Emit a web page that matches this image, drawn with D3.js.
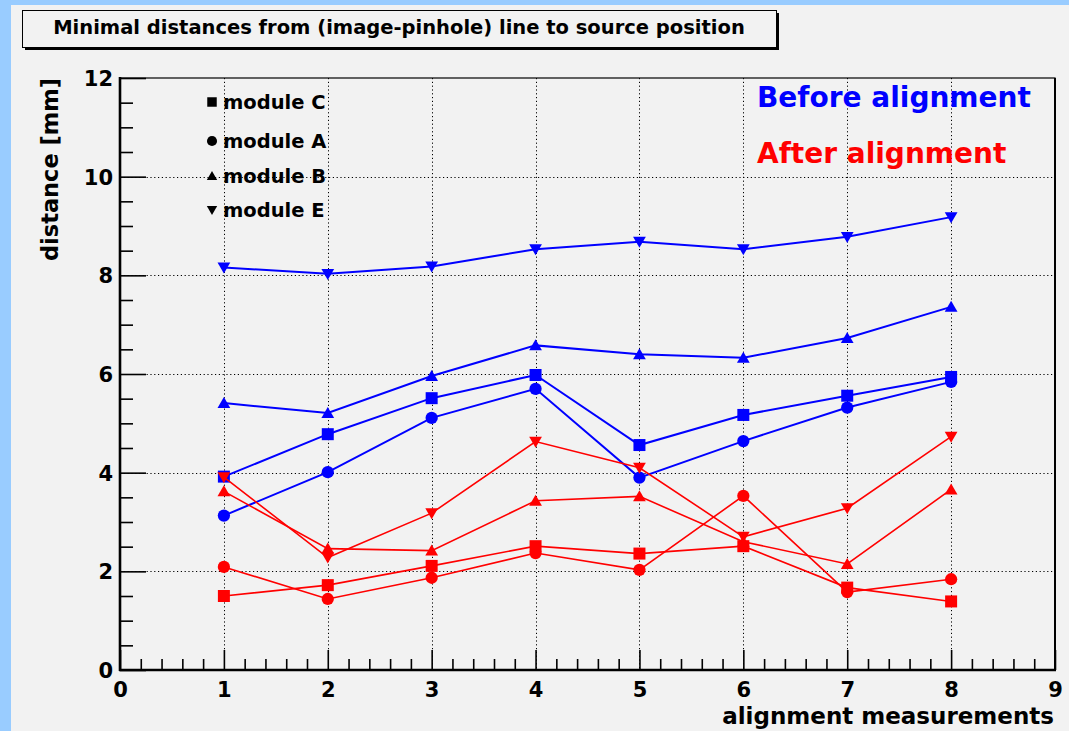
<!DOCTYPE html>
<html>
<head>
<meta charset="utf-8">
<script src="https://cdn.jsdelivr.net/npm/d3@7"></script>
<style>
  body { margin: 0; background: #f2f2f2; }
  svg { display: block; }
  text { font-family: "DejaVu Sans", "Liberation Sans", sans-serif; font-weight: bold; }
</style>
</head>
<body>
<svg id="chart" width="1069" height="731"></svg>
<script>
// Alignment measurement index (x) and per-module minimal distances in mm (y)
const measurements = [1, 2, 3, 4, 5, 6, 7, 8];

const moduleNames = ["module C", "module A", "module B", "module E"];

// Before alignment
const beforeC = [3.92, 4.78, 5.51, 5.98, 4.56, 5.17, 5.56, 5.94];
const beforeA = [3.13, 4.01, 5.11, 5.70, 3.90, 4.64, 5.32, 5.84];
const beforeB = [5.41, 5.21, 5.96, 6.58, 6.40, 6.33, 6.73, 7.36];
const beforeE = [8.16, 8.03, 8.18, 8.53, 8.68, 8.53, 8.78, 9.18];

// After alignment
const afterC = [1.50, 1.72, 2.11, 2.51, 2.36, 2.51, 1.67, 1.39];
const afterA = [2.09, 1.44, 1.87, 2.37, 2.03, 3.53, 1.58, 1.84];
const afterB = [3.62, 2.46, 2.42, 3.43, 3.52, 2.60, 2.15, 3.66];
const afterE = [3.91, 2.28, 3.18, 4.63, 4.10, 2.70, 3.28, 4.73];

const xTickValues = [0, 1, 2, 3, 4, 5, 6, 7, 8, 9];
const yTickValues = [0, 2, 4, 6, 8, 10, 12];

const titleText = "Minimal distances from (image-pinhole) line to source position";
const xTitle = "alignment measurements";
const yTitle = "distance [mm]";
const beforeLabel = "Before alignment";
const afterLabel = "After alignment";

// ---------------------------------------------------------------------------
const W = 1069, H = 731;
const plot = { left: 120, right: 1055, top: 78, bottom: 670 };
const BLUE = "#0000ff", RED = "#ff0000";

const svg = d3.select("#chart");

// page background with the blue border strips
svg.append("rect").attr("width", W).attr("height", H).attr("fill", "#99ccff");
svg.append("rect").attr("x", 11).attr("y", 5).attr("width", W - 11).attr("height", H - 5).attr("fill", "#f2f2f2");

const x = d3.scaleLinear().domain([0, 9]).range([plot.left, plot.right]);
const y = d3.scaleLinear().domain([0, 12]).range([plot.bottom, plot.top]);

// marker shapes
const triUp = {
  draw(ctx, size) {
    const h = Math.sqrt(size);
    ctx.moveTo(0, -h * 0.55);
    ctx.lineTo(h * 0.58, h * 0.45);
    ctx.lineTo(-h * 0.58, h * 0.45);
    ctx.closePath();
  }
};
const triDown = {
  draw(ctx, size) {
    const h = Math.sqrt(size);
    ctx.moveTo(0, h * 0.55);
    ctx.lineTo(h * 0.58, -h * 0.45);
    ctx.lineTo(-h * 0.58, -h * 0.45);
    ctx.closePath();
  }
};
const shapes = [d3.symbolSquare, d3.symbolCircle, triUp, triDown];
const shapeSize = [144, 118, 121, 121];
const legendSize = [90, 80, 80, 80];

// grid
const grid = svg.append("g").attr("stroke", "#000").attr("stroke-width", 1)
  .attr("stroke-dasharray", "1.2,2.6");
grid.selectAll("line.gx").data(xTickValues.filter(d => d > 0 && d < 9)).join("line")
  .attr("x1", d => Math.round(x(d)) + 0.5).attr("x2", d => Math.round(x(d)) + 0.5)
  .attr("y1", plot.top).attr("y2", plot.bottom);
grid.selectAll("line.gy").data(yTickValues.filter(d => d > 0 && d < 12)).join("line")
  .attr("y1", d => Math.round(y(d)) + 0.5).attr("y2", d => Math.round(y(d)) + 0.5)
  .attr("x1", plot.left).attr("x2", plot.right);

// frame
svg.append("rect")
  .attr("x", plot.left).attr("y", plot.top)
  .attr("width", plot.right - plot.left).attr("height", plot.bottom - plot.top)
  .attr("fill", "none").attr("stroke", "#000").attr("stroke-width", 1.2);
svg.append("line").attr("x1", plot.right).attr("x2", plot.right)
  .attr("y1", plot.top).attr("y2", plot.bottom).attr("stroke", "#000").attr("stroke-width", 2);

// axes
const xMajor = d3.axisBottom(x).tickValues(xTickValues).tickSize(-20).tickPadding(8)
  .tickFormat(d3.format("d"));
const xMinor = d3.axisBottom(x).tickValues(d3.range(0, 45).map(i => i / 5).filter(v => Math.abs(v - Math.round(v)) > 1e-6))
  .tickSize(-11).tickFormat("");
const yMajor = d3.axisLeft(y).tickValues(yTickValues).tickSize(-26).tickPadding(8)
  .tickFormat(d3.format("d"));
const yMinor = d3.axisLeft(y).tickValues(d3.range(0, 25).map(i => i / 2).filter(v => v % 2 !== 0))
  .tickSize(-13).tickFormat("");

function styleAxis(g) {
  g.select(".domain").remove();
  g.selectAll(".tick line").attr("stroke", "#000").attr("stroke-width", 1.6);
  g.selectAll("text").attr("fill", "#000").attr("font-size", 21)
    .attr("font-family", "\"DejaVu Sans\", sans-serif").attr("font-weight", "bold");
}
svg.append("g").attr("transform", `translate(0,${plot.bottom})`).call(xMinor).call(styleAxis);
svg.append("g").attr("transform", `translate(0,${plot.bottom})`).call(xMajor).call(styleAxis)
  .selectAll("text").attr("dy", null).attr("y", 27);
svg.append("g").attr("transform", `translate(${plot.left},0)`).call(yMinor).call(styleAxis);
svg.append("g").attr("transform", `translate(${plot.left},0)`).call(yMajor).call(styleAxis)
  .selectAll("text").attr("x", -7).attr("dy", "0.36em");

// thick axis lines
svg.append("line").attr("x1", plot.left - 1).attr("x2", plot.right + 1)
  .attr("y1", plot.bottom).attr("y2", plot.bottom).attr("stroke", "#000").attr("stroke-width", 2.6);
svg.append("line").attr("x1", plot.left).attr("x2", plot.left)
  .attr("y1", plot.top - 1).attr("y2", plot.bottom + 1).attr("stroke", "#000").attr("stroke-width", 2.6);

// series
const series = [
  { vals: beforeC, color: BLUE, shape: 0, w: 2 },
  { vals: beforeA, color: BLUE, shape: 1, w: 2 },
  { vals: beforeB, color: BLUE, shape: 2, w: 2 },
  { vals: beforeE, color: BLUE, shape: 3, w: 2 },
  { vals: afterC, color: RED, shape: 0, w: 1.6 },
  { vals: afterA, color: RED, shape: 1, w: 1.6 },
  { vals: afterB, color: RED, shape: 2, w: 1.6 },
  { vals: afterE, color: RED, shape: 3, w: 1.6 }
];

const line = d3.line().x(d => x(d[0])).y(d => y(d[1]));

series.forEach(s => {
  const pts = measurements.map((m, i) => [m, s.vals[i]]);
  const g = svg.append("g");
  g.append("path").attr("d", line(pts)).attr("fill", "none")
    .attr("stroke", s.color).attr("stroke-width", s.w);
  g.selectAll("path.m").data(pts).join("path")
    .attr("transform", d => `translate(${x(d[0])},${y(d[1])})`)
    .attr("d", d3.symbol().type(shapes[s.shape]).size(shapeSize[s.shape]))
    .attr("fill", s.color);
});

// legend
const legend = svg.append("g");
const legendY = [102, 141, 176, 210];
moduleNames.forEach((name, i) => {
  legend.append("path")
    .attr("transform", `translate(212,${legendY[i]})`)
    .attr("d", d3.symbol().type(shapes[i]).size(legendSize[i]))
    .attr("fill", "#000");
  legend.append("text").attr("x", 223).attr("y", legendY[i]).attr("dy", "0.36em")
    .attr("font-size", 19.5).attr("fill", "#000").text(name);
});

svg.append("text").attr("x", 757).attr("y", 107).attr("font-size", 28)
  .attr("fill", BLUE).text(beforeLabel);
svg.append("text").attr("x", 757).attr("y", 163).attr("font-size", 28)
  .attr("fill", RED).text(afterLabel);

// axis titles
svg.append("text").attr("x", 1054).attr("y", 724).attr("text-anchor", "end")
  .attr("font-size", 23).attr("fill", "#000").text(xTitle);
svg.append("text").attr("transform", "translate(58,78) rotate(-90)")
  .attr("text-anchor", "end").attr("font-size", 22.5).attr("fill", "#000").text(yTitle);

// title box with shadow
svg.append("rect").attr("x", 25).attr("y", 13).attr("width", 754).attr("height", 37).attr("fill", "#000");
svg.append("rect").attr("x", 22.5).attr("y", 10.5).attr("width", 754).attr("height", 37)
  .attr("fill", "#f2f2f2").attr("stroke", "#000").attr("stroke-width", 1);
svg.append("text").attr("x", 399).attr("y", 34).attr("text-anchor", "middle")
  .attr("font-size", 19.5).attr("fill", "#000").text(titleText);
</script>
</body>
</html>
